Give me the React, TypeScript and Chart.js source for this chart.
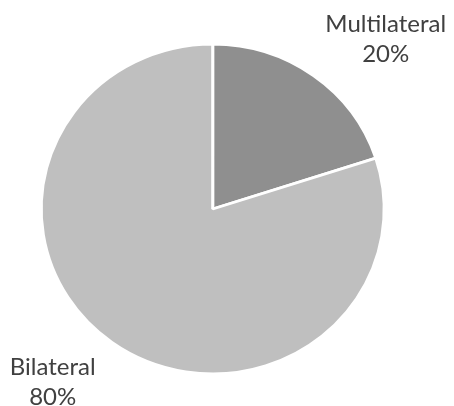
import React, { useEffect, useRef } from "react";
import { Chart, registerables } from "chart.js";

Chart.register(...registerables);

const categories = ["Multilateral", "Bilateral"];
const shares = [20, 80];
const percentLabels = ["20%", "80%"];
const sliceColors = ["#8f8f8f", "#bfbfbf"];

const W = 454;
const H = 406;
const SCALE_Y = 163.5 / 170;

const ellipsePlugin = {
  id: "ellipse",
  beforeDatasetsDraw(chart: any) {
    const meta = chart.getDatasetMeta(0);
    const arc = meta.data[0];
    if (!arc) return;
    const ctx = chart.ctx;
    ctx.save();
    ctx.translate(arc.x, arc.y);
    ctx.scale(1, SCALE_Y);
    ctx.translate(-arc.x, -arc.y);
  },
  afterDatasetsDraw(chart: any) {
    chart.ctx.restore();
  },
};

// label anchor offsets relative to pie centre (text layout only)
const labelOffsets = [
  { dx: 173, dy: -185 },
  { dx: -160, dy: 158 },
];

const labelPlugin = {
  id: "outsideLabels",
  afterDraw(chart: any) {
    const meta = chart.getDatasetMeta(0);
    const ctx = chart.ctx;
    ctx.save();
    ctx.fillStyle = "#404040";
    ctx.font = "24px Lato";
    ctx.textAlign = "center";
    ctx.textBaseline = "middle";
    meta.data.forEach((arc: any, i: number) => {
      const o = labelOffsets[i];
      const x = arc.x + o.dx;
      const y = arc.y + o.dy;
      ctx.fillText(categories[i], x, y);
      ctx.fillText(percentLabels[i], x, y + 30);
    });
    ctx.restore();
  },
};

export default function App() {
  const ref = useRef<HTMLCanvasElement | null>(null);
  useEffect(() => {
    document.body.style.margin = "0";
    const chart = new Chart(ref.current as HTMLCanvasElement, {
      type: "pie",
      data: {
        labels: categories,
        datasets: [
          {
            data: shares,
            backgroundColor: sliceColors,
            borderColor: "#ffffff",
            borderWidth: 3,
          },
        ],
      },
      options: {
        animation: false,
        responsive: false,
        radius: 171.5,
        layout: { padding: { left: 0, right: 28.6, top: 12, bottom: 0 } },
        plugins: {
          legend: { display: false },
          tooltip: { enabled: false },
        },
      } as any,
      plugins: [ellipsePlugin, labelPlugin],
    });
    return () => chart.destroy();
  }, []);
  return (
    <div style={{ width: W, height: H, background: "#fff" }}>
      <canvas ref={ref} width={W} height={H} style={{ width: W, height: H }} />
    </div>
  );
}
